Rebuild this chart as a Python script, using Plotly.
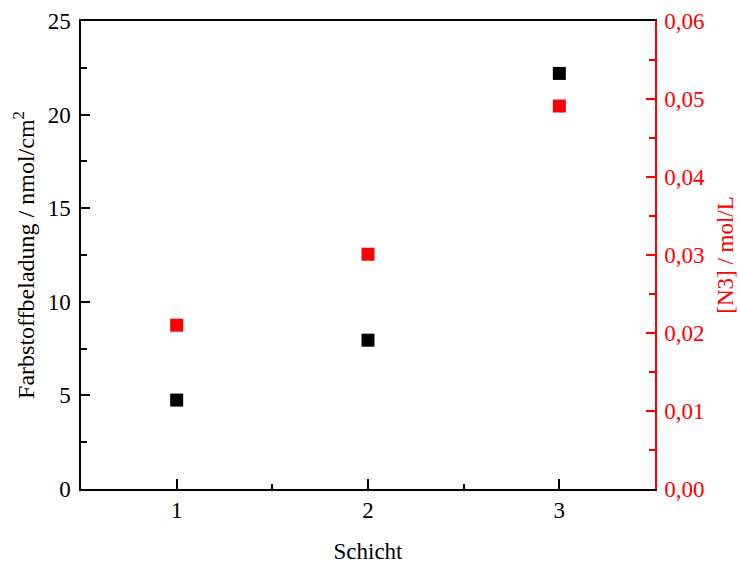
import plotly.graph_objects as go

schicht = [1, 2, 3]
beladung = [4.75, 7.95, 22.2]
n3_conc = [0.021, 0.0301, 0.0491]

fig = go.Figure()
fig.add_trace(go.Scatter(x=schicht, y=beladung, mode="markers",
                         marker=dict(symbol="square", size=13, color="black"),
                         showlegend=False, yaxis="y"))
fig.add_trace(go.Scatter(x=schicht, y=n3_conc, mode="markers",
                         marker=dict(symbol="square", size=13, color="#ff0000"),
                         showlegend=False, yaxis="y2"))

font = dict(family="Liberation Serif, Times New Roman, serif", size=23, color="black")

fig.update_layout(
    width=739, height=564,
    margin=dict(l=81, r=84, t=21, b=75, autoexpand=False),
    paper_bgcolor="white", plot_bgcolor="white",
    separators=",.",
    font=font,
    xaxis=dict(range=[0.5, 3.5], tickvals=[1, 2, 3], ticks="inside", ticklen=10,
               tickwidth=1.5, tickcolor="black",
               minor=dict(tickvals=[1.5, 2.5], ticks="inside", ticklen=5, tickwidth=1.5, tickcolor="black"),
               showline=True, linecolor="black", linewidth=1.5, mirror=True,
               showgrid=False, zeroline=False, automargin=False,
               tickfont=dict(size=23),
               title=dict(text="Schicht", font=dict(size=23), standoff=22)),
    yaxis=dict(range=[0, 25], tickvals=[0, 5, 10, 15, 20, 25], ticks="inside", ticklen=9,
               tickwidth=1.5, tickcolor="black",
               minor=dict(dtick=2.5, ticks="inside", ticklen=6, tickwidth=1.5, tickcolor="black"),
               showline=True, linecolor="black", linewidth=1.5,
               showgrid=False, zeroline=False, automargin=False,
               ticklabelstandoff=4,
               tickfont=dict(size=23),
               title=dict(text="Farbstoffbeladung / nmol/cm<sup>2</sup>", font=dict(size=24), standoff=6)),
    yaxis2=dict(range=[0, 0.06], tickvals=[0, 0.01, 0.02, 0.03, 0.04, 0.05, 0.06],
                tickformat=".2f", overlaying="y", side="right",
                ticks="inside", ticklen=9, tickwidth=1.5, tickcolor="#ff0000",
                minor=dict(dtick=0.005, ticks="inside", ticklen=6, tickwidth=1.5, tickcolor="#ff0000"),
                showline=True, linecolor="#ff0000", linewidth=1.5,
                showgrid=False, zeroline=False, automargin=False,
                ticklabelstandoff=3,
                tickfont=dict(color="#ff0000", size=23),
                title=dict(text="[N3] / mol/L", font=dict(size=23, color="#ff0000"), standoff=13)),
)

fig.write_html("out.html", config={"displayModeBar": False},
               post_script="document.body.style.margin='0px';")
